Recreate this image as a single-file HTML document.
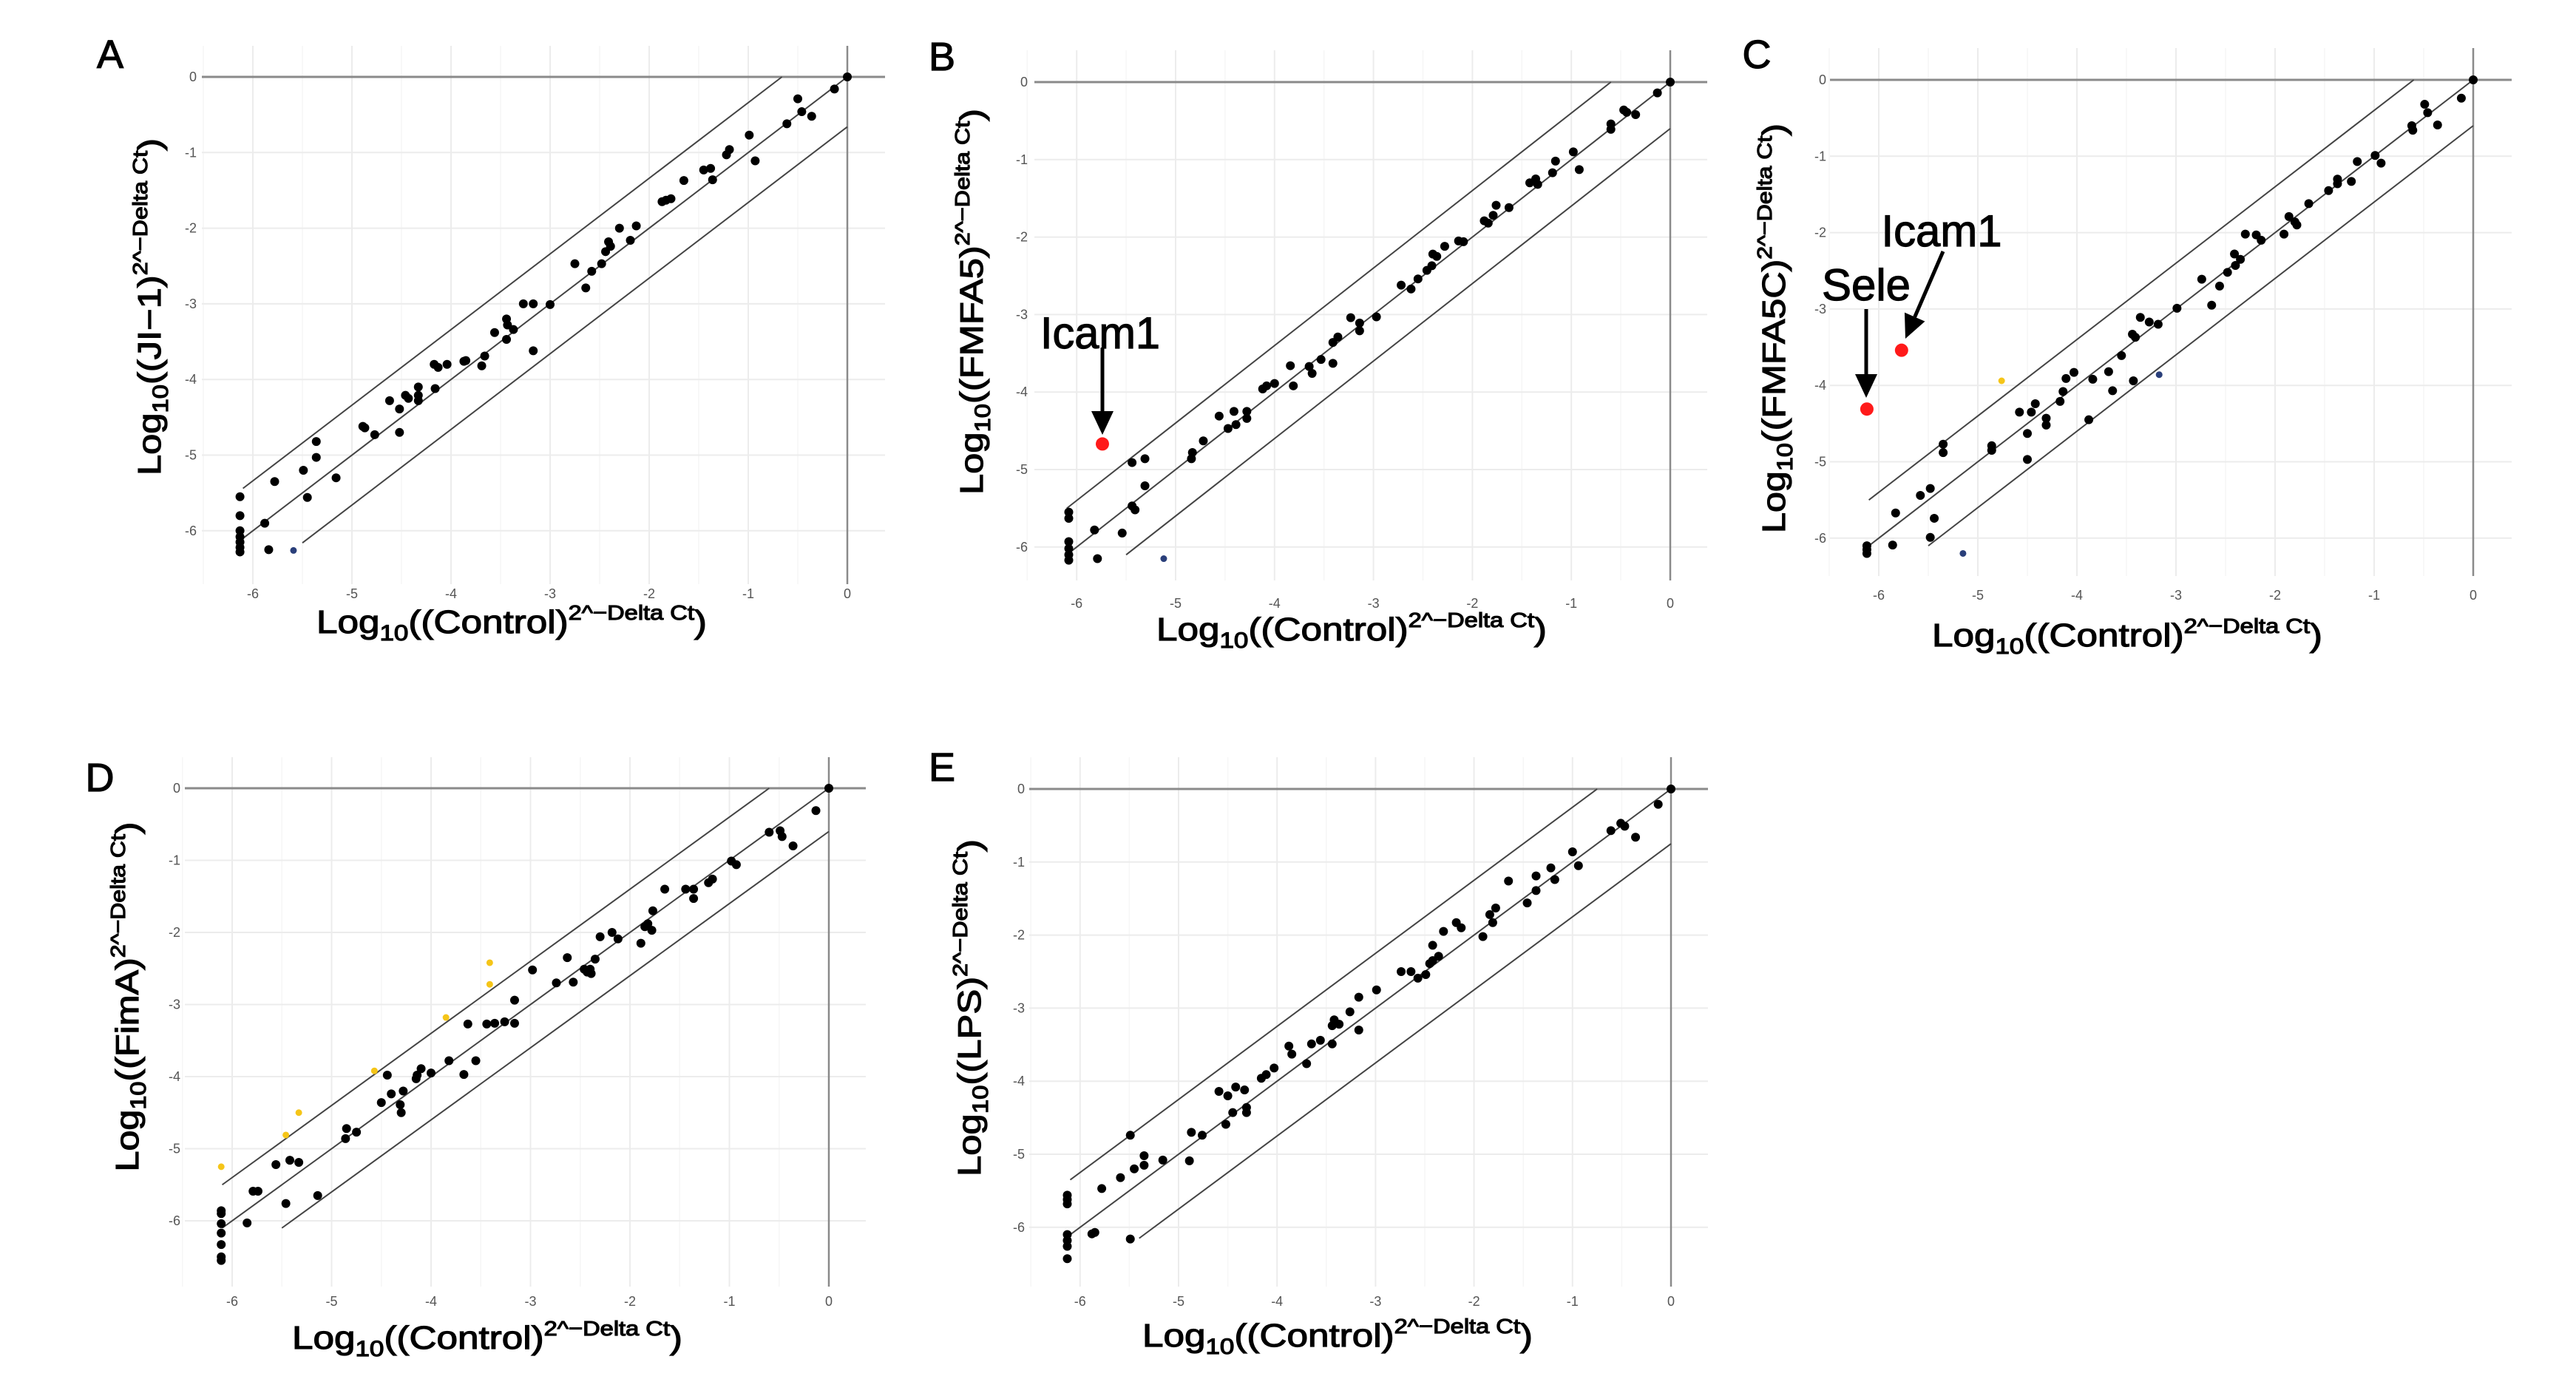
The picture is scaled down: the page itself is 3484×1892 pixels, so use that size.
<!DOCTYPE html>
<html><head><meta charset="utf-8"><style>
html,body{margin:0;padding:0;background:#fff;}
svg{display:block;}
text{font-family:"Liberation Sans","Noto Sans CJK JP",sans-serif;}
.heavy{stroke:#000;stroke-width:1.2px;}
</style></head><body>
<svg id="fig" width="3484" height="1892" viewBox="0 0 3484 1892" xmlns="http://www.w3.org/2000/svg"></svg>
<script>
// ===== Data (log10 values) =====
const ticksX = [-6,-5,-4,-3,-2,-1,0];
const ticksY = [0,-1,-2,-3,-4,-5,-6];
const tickLabels = ["-6","-5","-4","-3","-2","-1","0"];

const aX = [0,-0.13,-0.5,-0.46,-0.36,-0.61,-0.99,-0.93,-1.19,-1.22,-1.45,-1.38,-1.36,-1.65,-1.78,-1.87,-1.83,-2.13,-2.3,-2.19,-2.41,-2.39,-2.44,-2.48,-2.58,-2.64,-2.75,-3.0,-3.17,-3.27,-3.17,-3.37,-3.44,-3.43,-3.44,-3.56,-3.66,-3.69,-3.85,-3.87,-4.04,-4.17,-4.13,-4.16,-4.33,-4.33,-4.33,-4.46,-4.43,-4.62,-4.52,-4.52,-4.77,-4.89,-4.87,-5.16,-5.36,-5.36,-5.49,-5.45,-5.78,-5.88,-5.84,-6.13,-6.13,-6.13,-6.13,-6.13,-6.13,-6.13];
const aY = [0,-0.16,-0.29,-0.46,-0.52,-0.62,-0.77,-1.11,-0.96,-1.03,-1.23,-1.21,-1.36,-1.37,-1.61,-1.65,-1.63,-1.97,-2.0,-2.16,-2.18,-2.24,-2.31,-2.47,-2.57,-2.79,-2.47,-3.01,-3.0,-3.0,-3.62,-3.34,-3.2,-3.28,-3.47,-3.38,-3.69,-3.82,-3.75,-3.76,-3.8,-3.8,-3.84,-4.12,-4.1,-4.28,-4.21,-4.21,-4.25,-4.28,-4.39,-4.7,-4.73,-4.62,-4.64,-5.3,-4.82,-5.03,-5.2,-5.56,-5.35,-5.9,-6.25,-5.55,-5.8,-6.0,-6.08,-6.15,-6.22,-6.28];
const aBlueX = [-5.59];
const aBlueY = [-6.26];

const bX = [0,-0.13,-0.47,-0.44,-0.35,-0.6,-0.6,-0.98,-0.92,-1.16,-1.19,-1.36,-1.42,-1.34,-1.63,-1.76,-1.79,-1.88,-1.84,-2.14,-2.09,-2.28,-2.4,-2.36,-2.41,-2.46,-2.55,-2.62,-2.72,-2.97,-3.23,-3.14,-3.14,-3.36,-3.41,-3.41,-3.53,-3.65,-3.62,-3.84,-3.81,-4.0,-4.08,-4.12,-4.28,-4.28,-4.41,-4.56,-4.39,-4.47,-4.72,-4.83,-4.84,-5.31,-5.44,-5.31,-5.44,-5.41,-5.54,-5.82,-5.79,-6.08,-6.08,-6.08,-6.08,-6.08,-6.08];
const bY = [0,-0.14,-0.36,-0.39,-0.42,-0.54,-0.61,-0.9,-1.13,-1.02,-1.17,-1.25,-1.3,-1.32,-1.62,-1.59,-1.72,-1.79,-1.82,-2.05,-2.06,-2.12,-2.22,-2.25,-2.37,-2.43,-2.54,-2.67,-2.62,-3.03,-3.04,-3.11,-3.21,-3.29,-3.36,-3.63,-3.58,-3.67,-3.76,-3.66,-3.92,-3.89,-3.92,-3.96,-4.25,-4.34,-4.25,-4.31,-4.42,-4.47,-4.63,-4.78,-4.86,-4.86,-4.91,-5.21,-5.47,-5.52,-5.82,-5.78,-6.15,-5.55,-5.63,-5.93,-6.02,-6.1,-6.17];
const bBlueX = [-5.12];
const bBlueY = [-6.15];
const bRedX = [-5.74];
const bRedY = [-4.67];

const cX = [0,-0.12,-0.49,-0.46,-0.36,-0.62,-0.61,-0.99,-0.93,-1.17,-1.23,-1.37,-1.37,-1.46,-1.66,-1.86,-1.8,-1.78,-1.91,-2.19,-2.14,-2.3,-2.35,-2.41,-2.4,-2.48,-2.56,-2.64,-2.74,-2.99,-3.18,-3.27,-3.36,-3.44,-3.41,-3.43,-3.55,-3.68,-3.64,-3.84,-4.03,-4.11,-4.14,-4.17,-3.88,-4.31,-4.31,-4.42,-4.46,-4.58,-4.5,-4.5,-4.86,-4.86,-5.35,-5.35,-5.48,-5.58,-5.44,-5.48,-5.83,-5.86,-6.12,-6.12,-6.12];
const cY = [0,-0.24,-0.32,-0.43,-0.59,-0.6,-0.66,-0.99,-1.09,-1.07,-1.33,-1.3,-1.36,-1.45,-1.62,-1.79,-1.86,-1.9,-2.02,-2.03,-2.1,-2.02,-2.35,-2.28,-2.43,-2.52,-2.7,-2.95,-2.61,-2.99,-3.2,-3.17,-3.11,-3.33,-3.37,-3.94,-3.61,-3.82,-4.07,-3.92,-3.83,-3.91,-4.08,-4.21,-4.45,-4.43,-4.52,-4.24,-4.35,-4.35,-4.63,-4.97,-4.79,-4.85,-4.77,-4.88,-5.35,-5.44,-5.74,-5.99,-5.67,-6.09,-6.1,-6.15,-6.2];
const cYellowX = [-4.76];
const cYellowY = [-3.94];
const cBlueX = [-3.17,-5.15];
const cBlueY = [-3.86,-6.2];
const cRedX = [-6.12,-5.77];
const cRedY = [-4.31,-3.54];

const dX = [0,-0.13,-0.6,-0.49,-0.47,-0.36,-0.98,-0.93,-1.17,-1.21,-1.44,-1.36,-1.36,-1.65,-1.77,-1.82,-1.78,-1.85,-1.89,-2.18,-2.12,-2.3,-2.35,-2.43,-2.46,-2.39,-2.4,-2.57,-2.63,-2.74,-2.98,-3.16,-3.16,-3.26,-3.36,-3.44,-3.63,-3.55,-3.67,-3.82,-4.0,-4.1,-4.14,-4.15,-4.28,-4.31,-4.3,-4.44,-4.4,-4.5,-4.75,-4.85,-4.86,-5.14,-5.33,-5.42,-5.56,-5.46,-5.79,-5.74,-5.85,-6.11,-6.11,-6.11,-6.11,-6.11,-6.11,-6.11];
const dY = [0,-0.31,-0.61,-0.59,-0.67,-0.8,-1.01,-1.06,-1.26,-1.31,-1.4,-1.4,-1.53,-1.4,-1.7,-1.88,-1.97,-1.92,-2.15,-2.0,-2.09,-2.06,-2.37,-2.55,-2.51,-2.57,-2.51,-2.69,-2.35,-2.7,-2.52,-2.94,-3.26,-3.24,-3.26,-3.27,-3.27,-3.78,-3.97,-3.78,-3.95,-3.89,-3.98,-4.03,-4.2,-4.39,-4.5,-3.98,-4.24,-4.36,-4.77,-4.72,-4.86,-5.65,-5.19,-5.16,-5.22,-5.76,-5.59,-5.59,-6.03,-5.86,-5.9,-6.04,-6.17,-6.33,-6.5,-6.55];
const dYellowX = [-6.11,-5.46,-5.33,-4.57,-3.85,-3.41,-3.41];
const dYellowY = [-5.25,-4.81,-4.5,-3.92,-3.18,-2.42,-2.72];

const eX = [0,-0.13,-0.51,-0.47,-0.61,-0.36,-1.0,-0.94,-1.22,-1.37,-1.18,-1.37,-1.65,-1.46,-1.78,-1.84,-1.81,-1.91,-2.18,-2.13,-2.31,-2.42,-2.36,-2.42,-2.45,-2.49,-2.57,-2.64,-2.74,-2.99,-3.17,-3.17,-3.26,-3.37,-3.42,-3.44,-3.44,-3.56,-3.65,-3.7,-3.85,-3.88,-4.03,-4.11,-4.16,-4.33,-4.31,-4.31,-4.42,-4.5,-4.59,-4.45,-4.52,-4.76,-4.87,-4.89,-5.16,-5.35,-5.35,-5.45,-5.49,-5.59,-5.78,-5.85,-5.88,-5.49,-6.13,-6.13,-6.13,-6.13,-6.13,-6.13,-6.13];
const eY = [0,-0.21,-0.47,-0.51,-0.57,-0.66,-0.86,-1.05,-1.08,-1.19,-1.24,-1.39,-1.26,-1.56,-1.63,-1.72,-1.83,-2.02,-1.83,-1.9,-1.95,-2.14,-2.29,-2.35,-2.39,-2.54,-2.59,-2.5,-2.5,-2.75,-2.85,-3.3,-3.05,-3.22,-3.16,-3.24,-3.49,-3.44,-3.49,-3.76,-3.63,-3.52,-3.82,-3.91,-3.96,-4.12,-4.36,-4.43,-4.08,-4.2,-4.14,-4.43,-4.59,-4.74,-4.7,-5.09,-5.08,-5.02,-5.15,-5.2,-4.74,-5.32,-5.47,-6.07,-6.09,-6.16,-5.56,-5.62,-5.68,-6.1,-6.18,-6.26,-6.43];

// ===== Rendering =====
const NS = "http://www.w3.org/2000/svg";
const svg = document.getElementById("fig");
function mk(tag, attrs, parent){
  const e = document.createElementNS(NS, tag);
  for (const k in attrs) e.setAttribute(k, attrs[k]);
  (parent||svg).appendChild(e);
  return e;
}

function drawPanel(cfg, xs, ys, extras){
  const g = mk("g", {});
  
  
  const sx = v => cfg.x0 + v*cfg.ux;
  const sy = v => cfg.y0 - v*cfg.uy;

  ticksX.forEach(t => {
    const l = mk("line", {x1:sx(t), x2:sx(t), y1:cfg.top, y2:cfg.bottom, stroke:"#ececec", "stroke-width":2}, g);
    
    
    const m = mk("line", {x1:sx(t-0.5), x2:sx(t-0.5), y1:cfg.top, y2:cfg.bottom, stroke:"#f6f6f6", "stroke-width":1.5}, g);
    
    
  });
  ticksY.forEach(t => {
    const l = mk("line", {x1:cfg.left, x2:cfg.right, y1:sy(t), y2:sy(t), stroke:"#ececec", "stroke-width":2}, g);
    
    
  });
  const hz = mk("line", {x1:cfg.left, x2:cfg.right, y1:sy(0), y2:sy(0), stroke:"#8a8a8a", "stroke-width":3}, g);
  
  
  const vz = mk("line", {x1:sx(0), x2:sx(0), y1:cfg.top, y2:cfg.bottom, stroke:"#8a8a8a", "stroke-width":2.5}, g);
  
  

  const o = cfg.off;
  const mid = mk("line", {x1:sx(-6.1), y1:sy(-6.1), x2:sx(0), y2:sy(0), stroke:"#444", "stroke-width":2}, g);
  
  
  const up = mk("line", {x1:sx(-6.1), y1:sy(-6.1+o), x2:sx(-o), y2:sy(0), stroke:"#444", "stroke-width":2}, g);
  
  
  const lo = mk("line", {x1:sx(cfg.lowStart), y1:sy(cfg.lowStart-o), x2:sx(0), y2:sy(-o), stroke:"#444", "stroke-width":2}, g);
  
  

  ticksX.forEach((t,i) => {
    const tx = mk("text", {x:sx(t), y:cfg.xtickY, "font-size":18, fill:"#555", "text-anchor":"middle"}, g);
    tx.textContent = tickLabels[i];
    
    
  });
  ticksY.forEach((t,i) => {
    const ty = mk("text", {x:cfg.ytickX, y:sy(t)+6, "font-size":18, fill:"#555", "text-anchor":"end"}, g);
    ty.textContent = tickLabels[6-i];
    
    
  });

  for (let i=0;i<xs.length;i++){
    const c = mk("circle", {cx:sx(xs[i]), cy:sy(ys[i]), r:6, fill:"#000"}, g);
    
    
  }
  extras.forEach(ex => {
    for (let i=0;i<ex.x.length;i++){
      const c = mk("circle", {cx:sx(ex.x[i]), cy:sy(ex.y[i]), r:ex.r, fill:ex.color}, g);
      
      
    }
  });

  const xt = mk("text", {x:cfg.xtX, y:cfg.xtY, "font-size":44, fill:"#000", "class":"heavy", "text-anchor":"middle", textLength:528, lengthAdjust:"spacingAndGlyphs"}, g);
  
  
  xt.innerHTML = 'Log<tspan font-size="30" dy="10">10</tspan><tspan dy="-10">((Control)</tspan><tspan font-size="28" dy="-18">2^−Delta Ct</tspan><tspan dy="18">)</tspan>';

  const yt = mk("text", {x:0, y:0, "font-size":44, fill:"#000", "class":"heavy", "text-anchor":"middle", textLength:cfg.ytLen, lengthAdjust:"spacingAndGlyphs", transform:`translate(${cfg.ytX+15},${cfg.ytY}) rotate(-90)`}, g);
  
  
  yt.innerHTML = 'Log<tspan font-size="30" dy="10">10</tspan><tspan dy="-10">((' + cfg.group + ')</tspan><tspan font-size="28" dy="-18">2^−Delta Ct</tspan><tspan dy="18">)</tspan>';

  const lt = mk("text", {x:cfg.lx, y:cfg.ly+20, "font-size":54, fill:"#000", "class":"heavy", "text-anchor":"middle"}, g);
  lt.textContent = cfg.letter;
  
  
  return g;
}

const panels = [
  {letter:"A", group:"JI−1", x0:1146, ux:134, y0:104, uy:102.3, left:273, right:1197, top:62, bottom:790, off:0.66, lowStart:-5.5, ytickX:266, xtickY:809, xtX:692, xtY:856, ytX:202, ytY:415, ytLen:456, lx:149, ly:72, xs:aX, ys:aY,
   extras:[{x:aBlueX, y:aBlueY, r:4.5, color:"#2a3f7a", name:"blue-point"}]},
  {letter:"B", group:"FMFA5", x0:2259, ux:133.8, y0:111, uy:104.8, left:1399, right:2309, top:68, bottom:785, off:0.6, lowStart:-5.5, ytickX:1390, xtickY:822, xtX:1828, xtY:866, ytX:1314, ytY:408, ytLen:522, lx:1274, ly:75, xs:bX, ys:bY,
   extras:[{x:bBlueX, y:bBlueY, r:4.5, color:"#2a3f7a", name:"blue-point"},{x:bRedX, y:bRedY, r:9, color:"#ff1a1a", name:"icam1-point"}]},
  {letter:"C", group:"FMFA5C", x0:3345, ux:134, y0:108, uy:103.3, left:2475, right:3397, top:65, bottom:779, off:0.6, lowStart:-5.5, ytickX:2470, xtickY:811, xtX:2877, xtY:874, ytX:2399, ytY:444, ytLen:554, lx:2376, ly:72, xs:cX, ys:cY,
   extras:[{x:cYellowX, y:cYellowY, r:4.5, color:"#f5c518", name:"yellow-point"},{x:cBlueX, y:cBlueY, r:4.5, color:"#2a3f7a", name:"blue-point"},{x:cRedX, y:cRedY, r:9, color:"#ff1a1a", name:"highlight-point"}]},
  {letter:"D", group:"FimA", x0:1121, ux:134.5, y0:1066, uy:97.5, left:250, right:1171, top:1024, bottom:1740, off:0.6, lowStart:-5.5, ytickX:244, xtickY:1766, xtX:659, xtY:1824, ytX:172, ytY:1348, ytLen:473, lx:135, ly:1050, xs:dX, ys:dY,
   extras:[{x:dYellowX, y:dYellowY, r:4.5, color:"#f5c518", name:"yellow-point"}]},
  {letter:"E", group:"LPS", x0:2260, ux:133.2, y0:1067, uy:98.8, left:1392, right:2310, top:1024, bottom:1740, off:0.75, lowStart:-5.4, ytickX:1386, xtickY:1766, xtX:1809, xtY:1821, ytX:1311, ytY:1363, ytLen:456, lx:1274, ly:1036, xs:eX, ys:eY, extras:[]}
];
panels.forEach(p => drawPanel(p, p.xs, p.ys, p.extras));

function arrow(x1,y1,x2,y2,name){
  const g = mk("g", {});
  
  
  const dx=x2-x1, dy=y2-y1, L=Math.hypot(dx,dy), ux=dx/L, uy=dy/L, hl=32, hw=15;
  const bx=x2-ux*hl, by=y2-uy*hl;
  mk("line",{x1:x1,y1:y1,x2:bx,y2:by,stroke:"#000","stroke-width":5},g);
  mk("polygon",{points:`${x2},${y2} ${bx-uy*hw},${by+ux*hw} ${bx+uy*hw},${by-ux*hw}`,fill:"#000"},g);
}
function label(txt,x,y,len,name){
  const t = mk("text",{x:x,y:y,"font-size":60,fill:"#000","class":"heavy","text-anchor":"middle",textLength:len,lengthAdjust:"spacingAndGlyphs"});
  t.textContent = txt;
  
  
}
label("Icam1",1488,471,162,"icam1-label-b");
arrow(1491,470,1491,588,"icam1-arrow-b");
label("Icam1",2626,333,163,"icam1-label-c");
arrow(2628,340,2577,458,"icam1-arrow-c");
label("Sele",2524,406,120,"sele-label-c");
arrow(2524,418,2524,538,"sele-arrow-c");
</script>
</body></html>
